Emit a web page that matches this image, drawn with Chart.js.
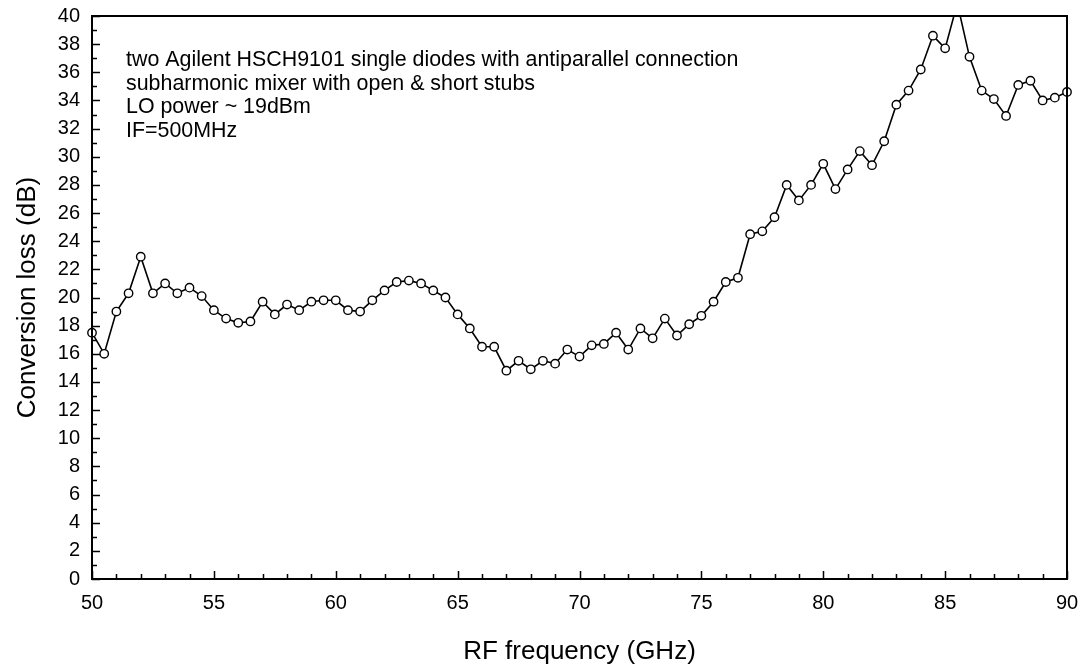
<!DOCTYPE html>
<html>
<head>
<meta charset="utf-8">
<script src="https://cdn.jsdelivr.net/npm/chart.js@4.4.0/dist/chart.umd.min.js"></script>
<style>
  html, body { margin: 0; padding: 0; background: #fff; }
  #wrap { width: 1085px; height: 668px; }
</style>
</head>
<body>
<div id="wrap"><canvas id="myChart" width="1085" height="668"></canvas></div>
<script>
// RF frequency (GHz), measured every 0.5 GHz
let freq = [
    50, 50.5, 51, 51.5, 52, 52.5, 53, 53.5, 54, 54.5,
    55, 55.5, 56, 56.5, 57, 57.5, 58, 58.5, 59, 59.5,
    60, 60.5, 61, 61.5, 62, 62.5, 63, 63.5, 64, 64.5,
    65, 65.5, 66, 66.5, 67, 67.5, 68, 68.5, 69, 69.5,
    70, 70.5, 71, 71.5, 72, 72.5, 73, 73.5, 74, 74.5,
    75, 75.5, 76, 76.5, 77, 77.5, 78, 78.5, 79, 79.5,
    80, 80.5, 81, 81.5, 82, 82.5, 83, 83.5, 84, 84.5,
    85, 85.5, 86, 86.5, 87, 87.5, 88, 88.5, 89, 89.5,
    90
]

// conversion loss (dB)
let loss = [
    17.5, 16.0, 19.0, 20.3, 22.9, 20.3, 21.0, 20.3, 20.7, 20.1,
    19.1, 18.5, 18.2, 18.3, 19.7, 18.8, 19.5, 19.1, 19.7, 19.8,
    19.8, 19.1, 19.0, 19.8, 20.5, 21.1, 21.2, 21.0, 20.5, 20.0,
    18.8, 17.8, 16.5, 16.5, 14.8, 15.5, 14.9, 15.5, 15.3, 16.3,
    15.8, 16.6, 16.7, 17.5, 16.3, 17.8, 17.1, 18.5, 17.3, 18.1,
    18.7, 19.7, 21.1, 21.4, 24.5, 24.7, 25.7, 28.0, 26.9, 28.0,
    29.5, 27.7, 29.1, 30.4, 29.4, 31.1, 33.7, 34.7, 36.2, 38.6,
    37.7, 40.9, 37.1, 34.7, 34.1, 32.9, 35.1, 35.4, 34.0, 34.2,
    34.6
]

let notes = [
    'two Agilent HSCH9101 single diodes with antiparallel connection',
    'subharmonic mixer with open & short stubs',
    'LO power ~ 19dBm',
    'IF=500MHz'
]

let xMin = 50, xMax = 90, xMajor = 5, xMinor = 1
let yMin = 0, yMax = 40, yMajor = 2, yMinor = 1

const FONT = "'Liberation Sans', Arial, sans-serif"

// frame + inward ticks, drawn from the scales
let framePlugin = {
    id: 'frame',
    afterDatasetsDraw(chart) {
        let ctx = chart.ctx
        let a = chart.chartArea
        let xs = chart.scales.x
        let ys = chart.scales.y
        ctx.save()
        ctx.strokeStyle = '#000'
        ctx.lineWidth = 1.5

        ctx.beginPath()
        for (let v = xMin; v <= xMax; v += xMinor) {
            let px = Math.round(xs.getPixelForValue(v)) + 0.5
            let len = (v % xMajor === 0) ? 8 : 5
            ctx.moveTo(px, a.bottom)
            ctx.lineTo(px, a.bottom - len)
        }
        for (let v = yMin; v <= yMax; v += yMinor) {
            let py = Math.round(ys.getPixelForValue(v)) + 0.5
            let len = (v % yMajor === 0) ? 8 : 5
            ctx.moveTo(a.left, py)
            ctx.lineTo(a.left + len, py)
        }
        ctx.stroke()

        ctx.lineWidth = 2
        ctx.strokeRect(a.left, a.top, a.right - a.left, a.bottom - a.top)
        ctx.restore()
    }
}

let notesPlugin = {
    id: 'notes',
    afterDraw(chart) {
        let ctx = chart.ctx
        ctx.save()
        ctx.fillStyle = '#000'
        ctx.font = '21.4px ' + FONT
        ctx.textBaseline = 'alphabetic'
        ctx.textAlign = 'left'
        notes.forEach((line, i) => {
            ctx.fillText(line, 126, 66 + i * 23.6)
        })
        ctx.restore()
    }
}

let data = {
    datasets: [{
        label: 'Conversion loss',
        data: freq.map((f, i) => ({ x: f, y: loss[i] })),
        borderColor: '#000',
        borderWidth: 1.6,
        pointRadius: 4.2,
        pointBorderWidth: 1.4,
        pointBackgroundColor: '#fff',
        pointBorderColor: '#000',
        tension: 0,
        clip: { left: false, right: false, top: 0, bottom: false }
    }]
}

let config = {
    type: 'line',
    data: data,
    options: {
        responsive: false,
        animation: false,
        layout: {
            padding: { left: 0, top: 16, right: 18, bottom: 0 }
        },
        scales: {
            x: {
                type: 'linear',
                min: xMin,
                max: xMax,
                afterFit: (scale) => {
                    scale.height = 89
                    scale.paddingLeft = 0
                    scale.paddingRight = 0
                },
                grid: { display: false, drawTicks: false },
                border: { display: false },
                ticks: {
                    stepSize: xMajor,
                    color: '#000',
                    padding: 12,
                    maxRotation: 0,
                    font: { family: FONT, size: 20 }
                },
                title: {
                    display: true,
                    text: 'RF frequency (GHz)',
                    color: '#000',
                    padding: { top: 0, bottom: 1 },
                    font: { family: FONT, size: 26 }
                }
            },
            y: {
                min: yMin,
                max: yMax,
                afterFit: (scale) => {
                    scale.width = 92
                    scale.paddingTop = 0
                    scale.paddingBottom = 0
                },
                grid: { display: false, drawTicks: false },
                border: { display: false },
                ticks: {
                    stepSize: yMajor,
                    color: '#000',
                    padding: 12,
                    font: { family: FONT, size: 20 }
                },
                title: {
                    display: true,
                    text: 'Conversion loss (dB)',
                    color: '#000',
                    padding: { top: 12, bottom: 0 },
                    font: { family: FONT, size: 26 }
                }
            }
        },
        plugins: {
            legend: { display: false },
            tooltip: { enabled: false }
        }
    },
    plugins: [framePlugin, notesPlugin]
}

let mychart = new Chart(document.getElementById('myChart'), config)
</script>
</body>
</html>
